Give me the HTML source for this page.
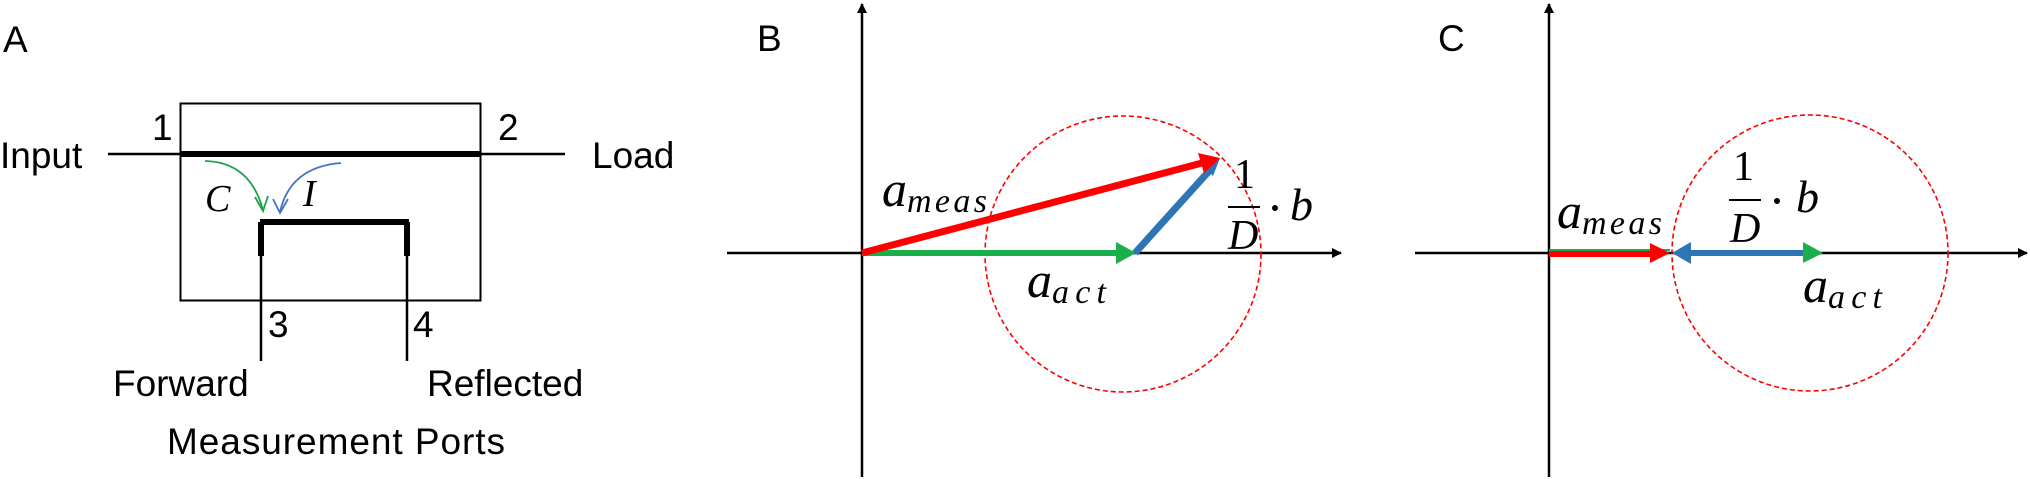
<!DOCTYPE html>
<html><head><style>html,body{margin:0;padding:0;background:#fff;}svg{display:block}</style></head><body>
<svg width="2030" height="479" viewBox="0 0 2030 479" xmlns="http://www.w3.org/2000/svg">
<defs>
<marker id="ak" markerWidth="10" markerHeight="10" refX="9" refY="5" orient="auto" markerUnits="userSpaceOnUse"><path d="M0,0 L10,5 L0,10 Z" fill="#000"/></marker>
</defs>
<g font-family="Liberation Sans, sans-serif" font-size="37" fill="#000">
<text x="3" y="52">A</text>
<text x="0" y="168">Input</text>
<text x="592" y="168">Load</text>
<text x="152" y="140">1</text>
<text x="498" y="140">2</text>
<text x="268" y="337">3</text>
<text x="413" y="337">4</text>
<text x="113" y="396">Forward</text>
<text x="427" y="396">Reflected</text>
<text x="167" y="454" textLength="338">Measurement Ports</text>
<text x="757" y="51">B</text>
<text x="1438" y="51">C</text>
</g>
<!-- Panel A -->
<rect x="180.5" y="103.5" width="300" height="197" fill="none" stroke="#000" stroke-width="2"/>
<line x1="108" y1="154" x2="565" y2="154" stroke="#000" stroke-width="2.5"/>
<line x1="180" y1="154" x2="480" y2="154" stroke="#000" stroke-width="6"/>
<line x1="260" y1="222" x2="409" y2="222" stroke="#000" stroke-width="6"/>
<line x1="261" y1="222" x2="261" y2="256" stroke="#000" stroke-width="6"/>
<line x1="407" y1="222" x2="407" y2="256" stroke="#000" stroke-width="6"/>
<line x1="261" y1="256" x2="261" y2="361" stroke="#000" stroke-width="2.5"/>
<line x1="407" y1="256" x2="407" y2="361" stroke="#000" stroke-width="2.5"/>
<path d="M205,161 Q250,162 263,210" fill="none" stroke="#1aa34a" stroke-width="1.8"/>
<path d="M255,197 L263,211 L268,196" fill="none" stroke="#1aa34a" stroke-width="1.8"/>
<path d="M341,163 Q290,167 280,212" fill="none" stroke="#4472c4" stroke-width="1.8"/>
<path d="M273,199 L280,213 L288,199" fill="none" stroke="#4472c4" stroke-width="1.8"/>
<g font-family="Liberation Serif, serif" font-style="italic" font-size="38">
<text x="205" y="211">C</text>
<text x="303" y="206">I</text>
</g>
<!-- Panel B -->
<line x1="862" y1="477" x2="862" y2="4" stroke="#000" stroke-width="2.5" marker-end="url(#ak)"/>
<line x1="727" y1="253" x2="1341" y2="253" stroke="#000" stroke-width="2.5" marker-end="url(#ak)"/>
<circle cx="1123" cy="254" r="138" fill="none" stroke="#ff0000" stroke-width="1.6" stroke-dasharray="5,3"/>
<line x1="862" y1="253" x2="1118" y2="253" stroke="#1aaf4a" stroke-width="6"/>
<path d="M1116,242 L1136,253 L1116,264 Z" fill="#1aaf4a"/>
<line x1="1135" y1="253" x2="1210" y2="170" stroke="#2e75b6" stroke-width="7"/>
<path d="M1200,162 L1220,158 L1213,176 Z" fill="#2e75b6"/>
<line x1="862" y1="253" x2="1202" y2="163" stroke="#ff0000" stroke-width="7"/>
<path d="M1198,153 L1220,158 L1204,173 Z" fill="#ff0000"/>
<!-- Panel C -->
<line x1="1549" y1="477" x2="1549" y2="4" stroke="#000" stroke-width="2.5" marker-end="url(#ak)"/>
<line x1="1415" y1="253" x2="2027" y2="253" stroke="#000" stroke-width="2.5" marker-end="url(#ak)"/>
<circle cx="1810" cy="253" r="138" fill="none" stroke="#ff0000" stroke-width="1.6" stroke-dasharray="5,3"/>
<line x1="1549" y1="250" x2="1670" y2="250" stroke="#1aaf4a" stroke-width="2"/>
<line x1="1549" y1="254" x2="1652" y2="254" stroke="#ff0000" stroke-width="6"/>
<path d="M1650,243 L1670,253 L1650,263 Z" fill="#ff0000"/>
<line x1="1690" y1="253" x2="1805" y2="253" stroke="#2e75b6" stroke-width="6"/>
<path d="M1803,242 L1823,253 L1803,263 Z" fill="#1aaf4a"/>
<path d="M1691,242 L1672,253 L1691,264 Z" fill="#2e75b6"/>
<!-- math labels -->
<g font-family="Liberation Serif, serif" font-style="italic" fill="#000">
<text x="882" y="206" font-size="50">a<tspan font-size="34" dy="6" textLength="80">meas</tspan></text>
<text x="1027" y="297" font-size="50">a<tspan font-size="34" dy="6" textLength="54">act</tspan></text>
<text x="1557" y="228" font-size="50">a<tspan font-size="34" dy="6" textLength="80">meas</tspan></text>
<text x="1803" y="302" font-size="50">a<tspan font-size="34" dy="6" textLength="54">act</tspan></text>
<text x="1290" y="220" font-size="46">b</text>
<text x="1228" y="249" font-size="42">D</text>
<text x="1796" y="212" font-size="46">b</text>
<text x="1730" y="242" font-size="42">D</text>
</g>
<g font-family="Liberation Serif, serif" font-size="42" fill="#000">
<text x="1234" y="188">1</text>
<text x="1733" y="180">1</text>
</g>
<line x1="1228" y1="207" x2="1260" y2="207" stroke="#000" stroke-width="2"/>
<circle cx="1275" cy="208" r="3" fill="#000"/>
<line x1="1729" y1="200" x2="1761" y2="200" stroke="#000" stroke-width="2"/>
<circle cx="1777" cy="201" r="3" fill="#000"/>
</svg>
</body></html>
